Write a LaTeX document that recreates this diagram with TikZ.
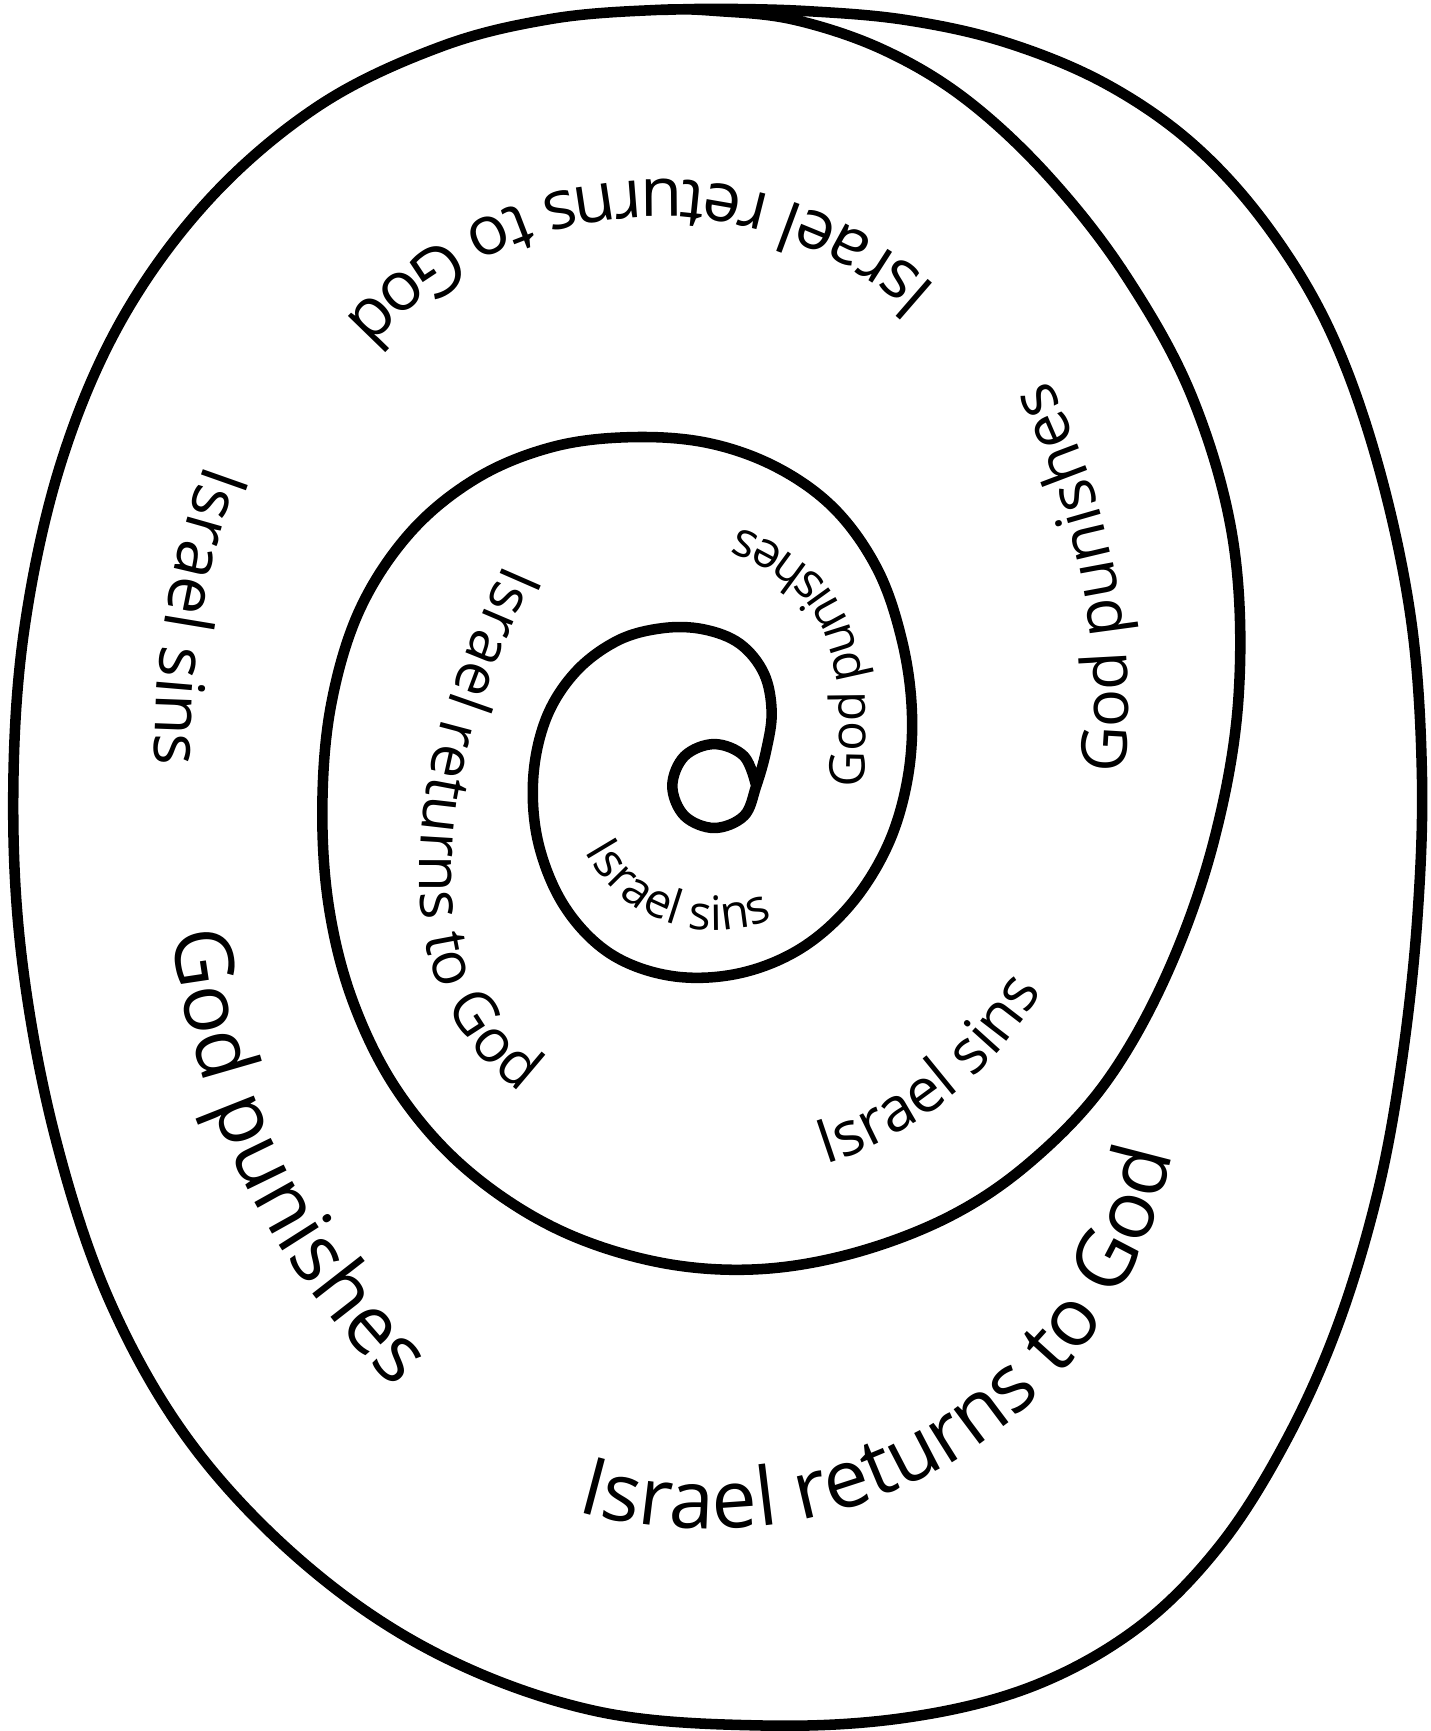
\documentclass[tikz,border=0pt]{standalone}
\usepackage{fontspec}
\setmainfont{Open Sans}
\usetikzlibrary{decorations.text}

\begin{document}
\begin{tikzpicture}[
  x=0.011042cm, y=-0.011042cm,
  spiral/.style={line width=3pt, line cap=round, line join=round},
  curvetext/.style 2 args={decorate, decoration={text along path, text align=left,
    text={|\fontsize{#1}{#1}\selectfont|#2}}}
]
\useasboundingbox (0,0) rectangle (1296,1568);

% the spiral, from the centre outwards
\draw[spiral] plot[smooth, tension=0.6] coordinates {
  (685,712) (674,685) (647,674) (620,685) (609,712) (620,739) (647,750) (674,739) (685,712)
  (694,680) (699,645) (692,610) (670,583) (637,570) (600,569) (560,580) (522,608) (495,650)
  (483,705) (488,765) (512,822) (553,864) (608,884) (668,882) (724,860) (770,820) (804,766)
  (822,706) (826,644) (817,580) (795,516) (756,461) (703,423) (640,401) (570,396) (500,405)
  (432,433) (372,482) (326,552) (300,638) (292,730) (298,822) (320,908) (360,988) (420,1057)
  (500,1111) (590,1142) (680,1150) (770,1136) (860,1102) (934,1052) (1002,980) (1058,880)
  (1100,760) (1122,630) (1117,490) (1080,360) (1020,250) (950,160) (875,90) (800,45)
  (720,18) (650,10) (595,9) (500,17) (400,42) (290,95) (190,180) (110,290)
  (55,420) (22,570) (12,720) (20,870) (50,1030) (100,1180) (175,1310) (280,1420) (400,1500)
  (540,1550) (690,1563) (820,1556) (934,1528) (1030,1475) (1105,1400) (1165,1305) (1212,1200)
  (1248,1080) (1270,960) (1284,830) (1288,700) (1278,560) (1248,420) (1205,300) (1148,205)
  (1080,130) (1000,75) (910,38) (820,18) (730,10) (650,8) (600,9)
};

% labels along the turns
\path[curvetext={13.5}{Israel sins}]
  plot[domain=207.5:320, samples=50] ({648+133*cos(\x)}, {710-133*sin(\x)});
\path[curvetext={14}{God punishes}] plot[smooth] coordinates {
  (783,713) (784,634) (778,595) (767,560) (749,530) (723,506) (694,489) (665,477) (640,472)
  (610,470) (580,472) (550,478)};
\path[curvetext={17}{Israel returns to God}] plot[smooth] coordinates {
  (457,510) (425,585) (400,655) (384,730) (380,800) (388,865) (408,918) (440,962) (478,995)
  (515,1020) (550,1040)};
\path[curvetext={17.5}{Israel sins}]
  plot[domain=-72.1:0, samples=50] ({640+352*cos(\x)}, {720-352*sin(\x)});
\path[curvetext={18}{God punishes}]
  plot[domain=-4.8:50, samples=60] ({358+664*cos(\x)}, {645-664*sin(\x)});
\path[curvetext={19.5}{Israel returns to God}]
  plot[domain=48:170, samples=60] ({596+379*cos(\x)}, {542-379*sin(\x)});
\path[curvetext={19}{Israel sins}]
  plot[domain=160:205, samples=50] ({900+760*cos(\x)}, {680-760*sin(\x)});
\path[curvetext={23}{God punishes}]
  plot[domain=185.8:250, samples=60] ({818+665*cos(\x)}, {777-665*sin(\x)});
\path[curvetext={23}{Israel returns to God}]
  plot[domain=-105.9:20, samples=80] ({640+430*cos(\x)}, {965-420*sin(\x)});
\end{tikzpicture}
\end{document}
